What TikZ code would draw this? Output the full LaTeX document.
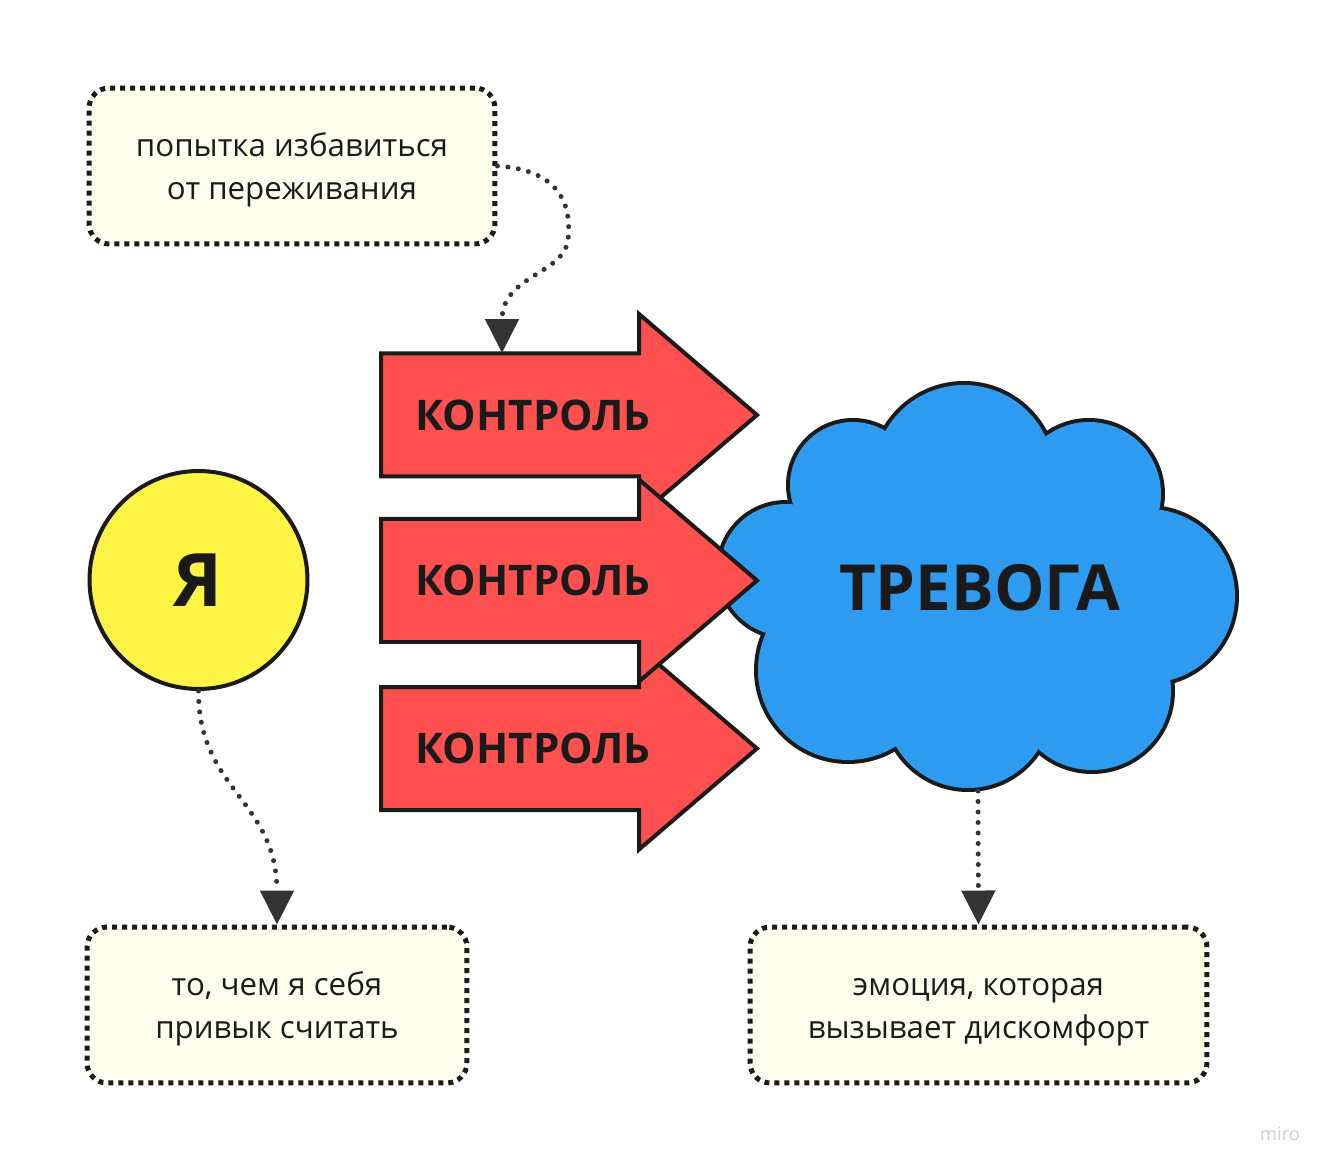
\documentclass[tikz,border=0pt]{standalone}
\usepackage{fontspec}
\setmainfont{Open Sans}
\usetikzlibrary{arrows.meta}

\definecolor{ink}{HTML}{1A1A1A}
\definecolor{linkgray}{HTML}{333333}
\definecolor{notefill}{HTML}{FFFFEE}
\definecolor{ctlred}{HTML}{FF5050}
\definecolor{cloudblue}{HTML}{2D9BF0}
\definecolor{selfyellow}{HTML}{FEF445}
\definecolor{mirogray}{HTML}{CDCDDB}

\newcommand{\topstrut}{\rule{0pt}{18.1pt}}
\newcommand{\botstrut}{\rule[-4.5pt]{0pt}{4.5pt}}

\begin{document}
\begin{tikzpicture}
[x=0.02cm, y=-0.02cm,
  noteDecorate/.style={shape=rectangle,rounded corners=0.4cm,draw=ink,fill=notefill,
    line width=0.1cm,dash pattern=on 0.1cm off 0.1cm,align=center,text=ink,
    font=\fontsize{17.8}{24.4}\selectfont,minimum height=3.12cm,inner sep=0pt},
  selfDecorate/.style={shape=circle,draw=ink,fill=selfyellow,line width=0.08cm,
    minimum size=4.36cm,inner sep=0pt,text=ink,font=\bfseries\fontsize{42}{42}\selectfont},
  controlDecorate/.style={draw=ink,fill=ctlred,line width=0.08cm,line join=miter},
  controlText/.style={text=ink,inner sep=0pt,font=\bfseries\fontsize{24}{24}\selectfont},
  puffLine/.style={draw=ink,line width=0.16cm},
  puffFill/.style={fill=cloudblue},
  linkDecorate/.style={draw=linkgray,line width=0.1cm,line cap=round,
    dash pattern=on 0pt off 0.21cm,-{Triangle[width=0.66cm,length=0.68cm]}}]
\fill[white] (0,0) rectangle (1333,1172);
\useasboundingbox (0,0) rectangle (1333,1172);

%% cloud puffs
\foreach \cx/\cy/\r in {853/485/65, 964/475/92, 1089/494/74, 1148/596/89,
  1092/691/81, 968/705/85, 848/670/92, 786/570/68}
{
  \draw[puffLine] (\cx,\cy) circle[radius=\r-2];
}
\fill[puffFill] (853,485) -- (964,475) -- (1089,494) -- (1148,596) -- (1092,691)
  -- (968,705) -- (848,670) -- (786,570) -- cycle;
\foreach \cx/\cy/\r in {853/485/65, 964/475/92, 1089/494/74, 1148/596/89,
  1092/691/81, 968/705/85, 848/670/92, 786/570/68}
{
  \fill[puffFill] (\cx,\cy) circle[radius=\r-2];
}
\node[text=ink,inner sep=0pt,font=\bfseries\fontsize{36.2}{36.2}\selectfont] (trevoga) at (979.5,588) {ТРЕВОГА};
\coordinate (trevogaBottom) at (978,791);

%% control arrows
\foreach \name/\y in {ctlA/415, ctlC/748.5, ctlB/580.5}
{
  \draw[controlDecorate] (381,\y-61.5) -- (639,\y-61.5) -- (639,\y-101) -- (757,\y)
    -- (639,\y+101) -- (639,\y+61.5) -- (381,\y+61.5) -- cycle;
  \node[controlText] (\name) at (533,\y) {КОНТРОЛЬ};
}
\coordinate (ctlAtop) at (502,353);

%% self and notes
\node[selfDecorate] (me) at (198.5,580) {Я};
\node[noteDecorate,minimum width=8.12cm] (pop) at (292,166)
  {\topstrut попытка избавиться\\от переживания\botstrut};
\node[noteDecorate,minimum width=7.6cm] (habit) at (277,1005)
  {\topstrut то, чем я себя\\привык считать\botstrut};
\node[noteDecorate,minimum width=9.14cm] (emo) at (978.5,1005)
  {\topstrut эмоция, которая\\вызывает дискомфорт\botstrut};

%% links
\draw[linkDecorate] (pop.east) .. controls (560,170) and (572,205) .. (568,240)
  .. controls (563,275) and (502,275) .. (ctlAtop);
\draw[linkDecorate] (me.south) .. controls (198,790) and (277,800) .. (habit.north);
\draw[linkDecorate] (trevogaBottom) -- (emo.north);

\node[text=mirogray,inner sep=0pt,font=\fontsize{10.4}{10.4}\selectfont] (miro) at (1280,1134) {miro};
\end{tikzpicture}
\end{document}
